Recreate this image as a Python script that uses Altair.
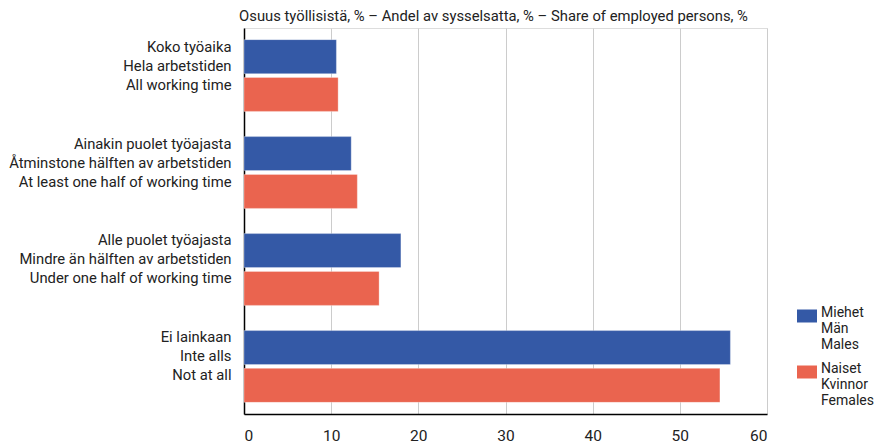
import altair as alt
import pandas as pd

categories = [
    "Koko työaika|Hela arbetstiden|All working time",
    "Ainakin puolet työajasta|Åtminstone hälften av arbetstiden|At least one half of working time",
    "Alle puolet työajasta|Mindre än hälften av arbetstiden|Under one half of working time",
    "Ei lainkaan|Inte alls|Not at all",
]
series = ["Miehet|Män|Males", "Naiset|Kvinnor|Females"]
males = [10.6, 12.3, 18.0, 55.8]
females = [10.8, 13.0, 15.5, 54.6]
colors = ["#3459A6", "#EA644F"]

rows = []
for c, m, f in zip(categories, males, females):
    rows.append({"cat": c, "ser": series[0], "val": m})
    rows.append({"cat": c, "ser": series[1], "val": f})
df = pd.DataFrame(rows)

FONT = "Roboto"

chart = alt.Chart(df).mark_bar(stroke="white", strokeWidth=0.6, strokeOpacity=0.5).encode(
    y=alt.Y("cat:N", sort=categories,
            scale=alt.Scale(paddingInner=0.26, paddingOuter=0.12),
            axis=alt.Axis(title=None, labelExpr="split(datum.label, '|')",
                          labelFontSize=14.8, labelColor="#222", labelFont=FONT,
                          labelLineHeight=19, labelOffset=-28, labelLimit=300,
                          ticks=False, domainColor="#000",
                          domainWidth=1.5, labelPadding=13, minExtent=235, maxExtent=235,
                          grid=False)),
    yOffset=alt.YOffset("ser:N", sort=series,
                        scale=alt.Scale(paddingInner=0.1, paddingOuter=0)),
    x=alt.X("val:Q", scale=alt.Scale(domain=[0, 60]),
            axis=alt.Axis(title=None, values=[0, 10, 20, 30, 40, 50, 60], ticks=False,
                          labelFontSize=15.5, labelColor="#222", labelFont=FONT,
                          labelPadding=14, domainColor="#000", domainWidth=1.5,
                          minExtent=30, maxExtent=30,
                          gridColor="#cccccc", gridWidth=1)),
    color=alt.Color("ser:N", sort=series, scale=alt.Scale(domain=series, range=colors),
                    legend=alt.Legend(title=None, orient="none", legendX=553, legendY=268,
                                      labelExpr="split(datum.label, '|')",
                                      labelFontSize=14, labelColor="#222", labelFont=FONT,
                                      labelBaseline="top",
                                      symbolType="M-1,0.35H1V1.65H-1Z", symbolSize=400,
                                      symbolStrokeWidth=0, rowPadding=-1, labelOffset=4)),
).properties(
    width=867, height=436,
    autosize=alt.AutoSizeParams(type="fit", contains="padding"),
    title=alt.TitleParams("Osuus työllisistä, % – Andel av sysselsatta, % – Share of employed persons, %",
                          font=FONT, fontSize=14.8, fontWeight="normal", color="#222",
                          anchor="middle", dx=-12, offset=4),
    padding={"left": 0, "top": 1, "right": 108, "bottom": 0},
).configure_view(stroke=None).configure(font=FONT)

chart.save("out.html", embed_options={"renderer": "svg", "actions": False})
